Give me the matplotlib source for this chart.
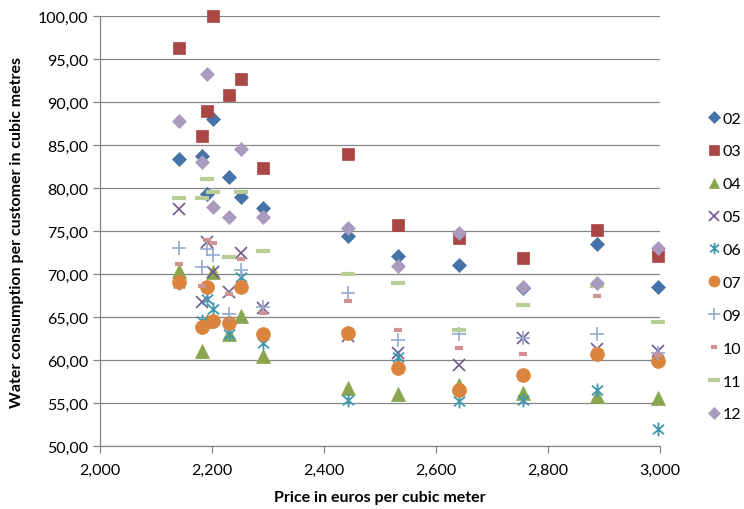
import matplotlib
matplotlib.use('Agg')
import matplotlib.pyplot as plt
from matplotlib.path import Path
from matplotlib.ticker import FuncFormatter, MultipleLocator

plt.rcParams['font.family'] = ['Lato', 'DejaVu Sans']

# price per cubic meter (x) for each of the 13 points
price = [2.141, 2.182, 2.191, 2.202, 2.230, 2.252, 2.291, 2.443, 2.532, 2.641, 2.755, 2.888, 2.996]

# consumption per customer, one list per year
y02 = [83.4, 83.7, 79.3, 88.0, 81.3, 79.0, 77.7, 74.4, 72.1, 71.0, 68.4, 73.5, 68.5]
y03 = [96.3, 86.0, 89.0, 100.0, 90.8, 92.7, 82.3, 83.9, 75.7, 74.2, 71.9, 75.1, 72.1]
y04 = [70.3, 61.1, 64.5, 70.2, 63.0, 65.1, 60.5, 56.8, 56.1, 57.1, 56.2, 55.8, 55.6]
y05 = [77.6, 66.7, 73.7, 70.2, 67.9, 72.5, 66.0, 62.8, 60.8, 59.4, 62.6, 61.3, 61.0]
y06 = [69.0, 64.5, 67.1, 65.9, 63.0, 69.7, 62.0, 55.4, 60.3, 55.2, 55.3, 56.5, 52.0]
y07 = [69.1, 63.8, 68.5, 64.5, 64.3, 68.5, 63.0, 63.1, 59.1, 56.5, 58.3, 60.7, 59.9]
y09 = [73.0, 70.8, 72.9, 72.2, 65.3, 70.5, 66.2, 67.8, 62.3, 63.0, 62.6, 63.0, 60.8]
y10 = [71.2, 68.6, 74.0, 73.6, 67.7, 71.8, 65.5, 66.9, 63.5, 61.4, 60.7, 67.5, 60.6]
y11 = [78.8, 78.8, 81.0, 79.5, 72.0, 79.5, 72.7, 70.0, 69.0, 63.5, 66.4, 68.6, 64.4]
y12 = [87.8, 83.0, 93.2, 77.8, 76.6, 84.5, 76.6, 75.3, 70.9, 74.8, 68.5, 69.0, 73.0]

labels = ['02', '03', '04', '05', '06', '07', '09', '10', '11', '12']
series = [y02, y03, y04, y05, y06, y07, y09, y10, y11, y12]

# excel style asterisk: vertical bar plus an X
star = Path([(0, -1), (0, 1), (-0.8, -0.7), (0.8, 0.7), (-0.8, 0.7), (0.8, -0.7)],
            [Path.MOVETO, Path.LINETO] * 3)

styles = [
    dict(marker='D', color='#4572A7', ms=7.5),
    dict(marker='s', color='#AA4643', ms=9.0),
    dict(marker='^', color='#89A54E', ms=9.5),
    dict(marker='x', color='#71588F', ms=8.5, mew=1.2),
    dict(marker=star, color='#4198AF', ms=10.0, mew=1.3),
    dict(marker='o', color='#DB843D', ms=10.0),
    dict(marker='+', color='#93A9CF', ms=10.0, mew=1.2),
    dict(marker='_', color='#D19392', ms=6.0, mew=3.0),
    dict(marker='_', color='#B9CD96', ms=10.0, mew=3.0),
    dict(marker='D', color='#A99BBD', ms=7.5),
]

fig = plt.figure(figsize=(7.44, 5.10), dpi=100)
ax = fig.add_axes([100 / 744, 1 - 447 / 510, 560 / 744, 430 / 510])

handles = []
for lab, vals, st in zip(labels, series, styles):
    h, = ax.plot(price, vals, linestyle='none', marker=st['marker'], color=st['color'],
                 markersize=st['ms'], markeredgewidth=st.get('mew', 0.5),
                 markeredgecolor=st['color'], label=lab, clip_on=False, zorder=3)
    handles.append(h)

ax.set_xlim(2.0, 3.0)
ax.set_ylim(50, 100)
ax.xaxis.set_major_locator(MultipleLocator(0.2))
ax.yaxis.set_major_locator(MultipleLocator(5))
ax.xaxis.set_major_formatter(FuncFormatter(lambda v, p: '{:.3f}'.format(v).replace('.', ',')))
ax.yaxis.set_major_formatter(FuncFormatter(lambda v, p: '{:.2f}'.format(v).replace('.', ',')))

ax.grid(axis='y', color='#868686', linewidth=0.9)
ax.set_axisbelow(True)
for s in ['top', 'right']:
    ax.spines[s].set_visible(False)
for s in ['left', 'bottom']:
    ax.spines[s].set_color('#868686')
    ax.spines[s].set_linewidth(0.9)
ax.tick_params(axis='both', colors='#868686', length=5, width=0.9, labelsize=11.5,
               labelcolor='#000000')
ax.tick_params(axis='x', pad=7)

ax.set_xlabel('Price in euros per cubic meter', fontsize=11.5, fontweight='bold')
ax.set_ylabel('Water consumption per customer in cubic metres', fontsize=11.5,
              fontweight='bold')
ax.xaxis.set_label_coords(0.5, -44 / 430)
ax.yaxis.set_label_coords(-76 / 560, 0.5)

fig.legend(handles=handles, loc='upper left', bbox_to_anchor=(700 / 744, 1 - 106 / 510),
           frameon=False, fontsize=11.5, numpoints=1, handlelength=0.9, handletextpad=0.1,
           labelspacing=1.17, markerscale=0.8, borderaxespad=0)

plt.savefig('out.png', dpi=100)
